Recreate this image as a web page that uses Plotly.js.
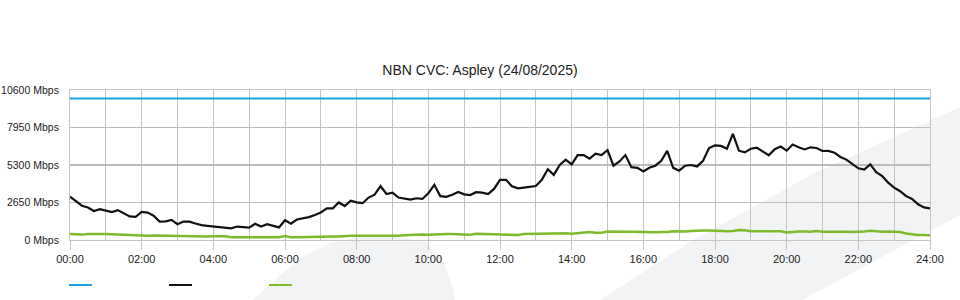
<!DOCTYPE html>
<html><head><meta charset="utf-8">
<script src="https://cdn.plot.ly/plotly-3.0.1.min.js"></script>
<style>html,body{margin:0;padding:0;background:#fff}#chart{width:960px;height:300px}</style>
</head><body><div id="chart"></div>
<script>
const chartTitle = 'NBN CVC: Aspley (24/08/2025)';
const stepMinutes = 10;
const tickHours = [0, 2, 4, 6, 8, 10, 12, 14, 16, 18, 20, 22, 24];
const tickLabels = ['00:00','02:00','04:00','06:00','08:00','10:00','12:00','14:00','16:00','18:00','20:00','22:00','24:00'];
const yTicks = [0, 2650, 5300, 7950, 10600];
const yTickLabels = ['0 Mbps', '2650 Mbps', '5300 Mbps', '7950 Mbps', '10600 Mbps'];

const capacityHours = [0, 24];
const capacityMbps = [10000, 10000];

// black series, one row per hour, 10-minute samples
const usageMbps = [
  3060, 2760, 2420, 2300, 2050, 2180,
  2080, 1975, 2110, 1860, 1670, 1635,
  1980, 1940, 1720, 1300, 1320, 1420,
  1120, 1300, 1300, 1170, 1050, 1000,
  960, 900, 895, 820, 950, 920,
  870, 1150, 950, 1120, 980, 890,
  1400, 1150, 1450, 1520, 1620, 1770,
  1950, 2238, 2238, 2650, 2400, 2780,
  2660, 2600, 3000, 3200, 3800, 3250,
  3350, 3000, 2900, 2850, 2950, 2900,
  3300, 3900, 3100, 3050, 3200, 3400,
  3227, 3180, 3380, 3350, 3251, 3610,
  4250, 4250, 3800, 3651, 3700, 3770,
  3816, 4250, 5000, 4600, 5300, 5680,
  5350, 6000, 6000, 5750, 6100, 6000,
  6350, 5250, 5550, 6000, 5150, 5100,
  4850, 5100, 5250, 5600, 6300, 5100,
  4900, 5250, 5300, 5200, 5600, 6500,
  6680, 6650, 6450, 7500, 6310, 6195,
  6450, 6520, 6250, 5990, 6420, 6600,
  6313, 6750, 6550, 6400, 6550, 6500,
  6290, 6300, 6170, 5870, 5680, 5350,
  5065, 4970, 5350, 4800, 4520, 4050,
  3700, 3450, 3100, 2900, 2520, 2300,
  2238
];

// green series, one row per hour, 10-minute samples
const uploadMbps = [
  430, 400, 380, 430, 450, 420,
  420, 400, 380, 360, 330, 310,
  310, 300, 310, 300, 300, 300,
  250, 240, 240, 240, 240, 240,
  270, 280, 260, 200, 190, 190,
  190, 190, 190, 190, 190, 190,
  280, 190, 190, 190, 190, 190,
  200, 230, 240, 250, 300, 300,
  300, 300, 300, 260, 300, 310,
  310, 300, 330, 360, 380, 380,
  370, 400, 420, 420, 420, 420,
  380, 370, 440, 430, 420, 420,
  420, 400, 360, 360, 420, 430,
  420, 430, 430, 460, 500, 480,
  450, 470, 520, 560, 520, 520,
  600, 580, 590, 590, 580, 560,
  540, 520, 540, 560, 560, 620,
  600, 600, 640, 680, 680, 680,
  660, 620, 610, 640, 700, 690,
  620, 610, 600, 610, 600, 620,
  530, 590, 600, 600, 590, 640,
  580, 580, 590, 600, 590, 560,
  560, 600, 660, 620, 590, 600,
  580, 560, 460, 400, 360, 350,
  340
];

const sampleHours = usageMbps.map((_, i) => i * stepMinutes / 60);

const W = 960, H = 300, L = 70, R = 30, T = 90, B = 60;
const pw = W - L - R, ph = H - T - B;
function px(x) { return (x - L) / pw; }
function py(y) { return (H - B - y) / ph; }
function pathPx(pts) {
  return pts.map((p, i) => (i ? 'L' : 'M') + px(p[0]).toFixed(4) + ',' + py(p[1]).toFixed(4)).join(' ') + ' Z';
}

const colors = { capacity: '#1ba1e2', usage: '#111111', upload: '#7dbb2c' };
const gridColor = '#c4c4c4';

const traces = [
  { x: capacityHours, y: capacityMbps, mode: 'lines', line: { color: colors.capacity, width: 2 }, name: '', showlegend: false, hoverinfo: 'skip' },
  { x: sampleHours, y: uploadMbps, mode: 'lines', line: { color: colors.upload, width: 2.5 }, name: '', showlegend: false },
  { x: sampleHours, y: usageMbps, mode: 'lines', line: { color: colors.usage, width: 2.2 }, name: '', showlegend: false }
];

const wm = '#f2f3f5';
const shapes = [
  { type: 'path', xref: 'paper', yref: 'paper', layer: 'below', line: { width: 0 }, fillcolor: wm,
    path: pathPx([[253,300],[275,280],[300,258],[330,243],[360,237],[395,237],[425,242],[442,258],[452,285],[455,300]]) },
  { type: 'path', xref: 'paper', yref: 'paper', layer: 'below', line: { width: 0 }, fillcolor: wm,
    path: pathPx([[600,300],[693,240],[815,173],[960,107],[960,215],[910,242],[802,300]]) },
  { type: 'line', xref: 'paper', yref: 'paper', x0: px(69), x1: px(92), y0: py(285), y1: py(285), line: { color: colors.capacity, width: 2 } },
  { type: 'line', xref: 'paper', yref: 'paper', x0: px(169), x1: px(192), y0: py(285), y1: py(285), line: { color: colors.usage, width: 2 } },
  { type: 'line', xref: 'paper', yref: 'paper', x0: px(269), x1: px(292), y0: py(285), y1: py(285), line: { color: colors.upload, width: 2 } }
];

const layout = {
  width: W, height: H,
  margin: { l: L, r: R, t: T, b: B, pad: 0 },
  paper_bgcolor: '#ffffff', plot_bgcolor: 'rgba(0,0,0,0)',
  font: { family: 'Liberation Sans, Arial, sans-serif', size: 11, color: '#222' },
  title: { text: chartTitle, x: 0.5, xref: 'container', xanchor: 'center', y: 1 - 70 / H, yref: 'container', yanchor: 'middle',
           font: { size: 14, color: '#222', family: 'Liberation Sans, Arial, sans-serif' } },
  showlegend: false,
  xaxis: {
    range: [0, 24], tickmode: 'array', tickvals: tickHours, ticktext: tickLabels,
    showgrid: true, gridcolor: gridColor, gridwidth: 1,
    minor: { tickmode: 'linear', tick0: 0, dtick: 1, showgrid: true, gridcolor: gridColor, gridwidth: 1, ticks: '' },
    zeroline: false, showline: true, mirror: true, linecolor: gridColor, linewidth: 1,
    ticks: 'outside', ticklen: 9, tickcolor: gridColor, tickwidth: 1,
    tickfont: { size: 11, color: '#222' }, fixedrange: true
  },
  yaxis: {
    range: [0, 10600], tickmode: 'array', tickvals: yTicks, ticktext: yTickLabels,
    showgrid: true, gridcolor: '#bdbdbd', gridwidth: 1.5,
    zeroline: false, showline: true, mirror: true, linecolor: gridColor, linewidth: 1,
    ticks: '', ticklabelstandoff: 8,
    tickfont: { size: 10.5, color: '#222' }, fixedrange: true
  },
  shapes: shapes
};

Plotly.newPlot('chart', traces, layout, { displayModeBar: false, staticPlot: true });
</script>
</body></html>
